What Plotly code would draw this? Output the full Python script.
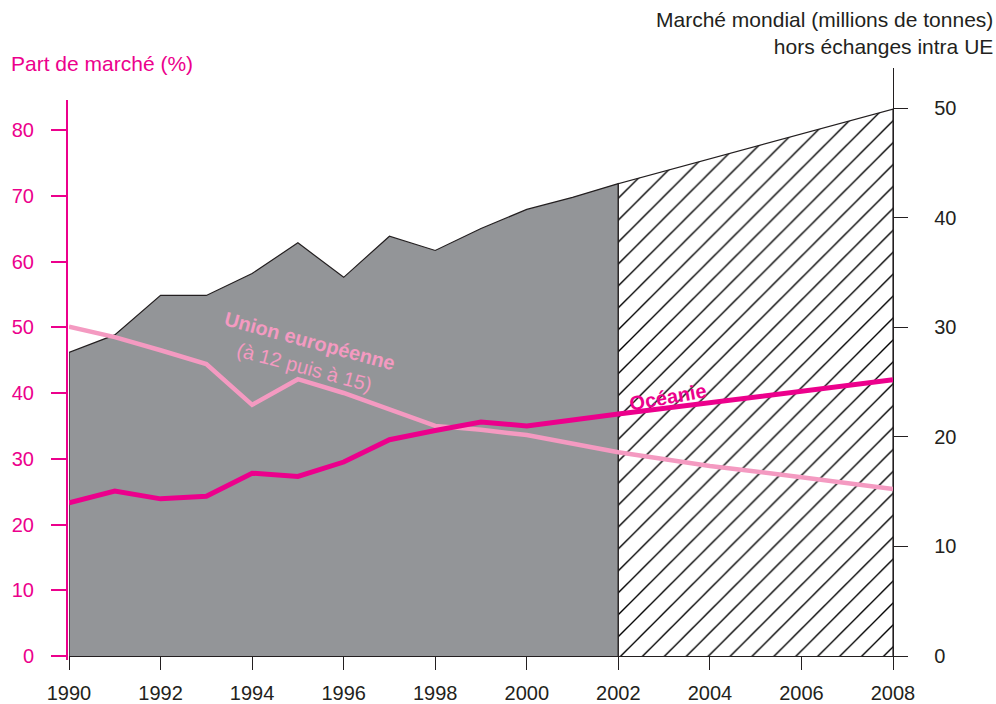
import plotly.graph_objects as go

# ---- data ----
years_hist = [1990, 1991, 1992, 1993, 1994, 1995, 1996, 1997, 1998, 1999, 2000, 2001, 2002]
market_hist = [27.7, 29.3, 32.9, 32.9, 34.9, 37.7, 34.55, 38.3, 37.0, 39.0, 40.75, 41.85, 43.1]

years_proj = [2002, 2008]
market_proj = [43.1, 49.9]

ue_years = [1990, 1991, 1992, 1993, 1994, 1995, 1996, 1997, 1998, 1999, 2000, 2002, 2004, 2006, 2008]
ue_share = [50.1, 48.5, 46.5, 44.4, 38.2, 42.1, 40.0, 37.5, 35.0, 34.4, 33.6, 31.0, 28.9, 27.2, 25.4]

oce_years = [1990, 1991, 1992, 1993, 1994, 1995, 1996, 1997, 1998, 1999, 2000, 2002, 2008]
oce_share = [23.3, 25.1, 23.9, 24.3, 27.8, 27.3, 29.5, 32.9, 34.3, 35.6, 35.0, 36.8, 42.0]

x_ticks = list(range(1990, 2009, 2))
left_ticks = [0, 10, 20, 30, 40, 50, 60, 70, 80]
right_ticks = [0, 10, 20, 30, 40, 50]

# ---- style ----
MAGENTA = "#ec008c"
LIGHTPINK = "#f49ac1"
GRAY = "#939598"
BLACK = "#231f20"
FONT = "Liberation Sans, Arial, Helvetica, sans-serif"
FS = 20
FT = 21

W, H = 996, 704
ML, MR, MT, MB = 69, 103, 68, 48
PW, PH = W - ML - MR, H - MT - MB


def px(x):
    return (x - ML) / PW


def py(y):
    return (H - MB - y) / PH


fig = go.Figure()

# gray historical area (closed polygon down to baseline)
fig.add_trace(go.Scatter(
    x=[years_hist[0]] + years_hist + [years_hist[-1]],
    y=[0] + market_hist + [0],
    fill="toself", fillcolor=GRAY, mode="lines",
    line=dict(color=BLACK, width=1.2), yaxis="y", hoverinfo="skip", showlegend=False,
))

# hatched projection area
fig.add_trace(go.Scatter(
    x=[years_proj[0]] + years_proj + [years_proj[-1]],
    y=[0] + market_proj + [0],
    fill="toself", mode="lines", fillcolor="white",
    fillpattern=dict(shape="/", fgcolor="#000000", fgopacity=1, bgcolor="white",
                     size=15.5, solidity=0.09, fillmode="overlay"),
    line=dict(color=BLACK, width=1.2), yaxis="y", hoverinfo="skip", showlegend=False,
))

# share lines (left axis)
fig.add_trace(go.Scatter(
    x=ue_years, y=ue_share, mode="lines",
    line=dict(color=LIGHTPINK, width=4.5), yaxis="y2", showlegend=False,
))
fig.add_trace(go.Scatter(
    x=oce_years, y=oce_share, mode="lines",
    line=dict(color=MAGENTA, width=5), yaxis="y2", showlegend=False,
))

fig.update_layout(
    width=W, height=H, autosize=False,
    margin=dict(l=ML, r=MR, t=MT, b=MB, pad=0, autoexpand=False),
    paper_bgcolor="white", plot_bgcolor="white",
    font=dict(family=FONT, size=FS, color=BLACK),
    showlegend=False,
    xaxis=dict(
        range=[1990, 2008], tickvals=x_ticks, ticks="outside", ticklen=13,
        tickcolor=BLACK, tickwidth=1.3, showline=True, linecolor=BLACK, linewidth=1.3,
        showgrid=False, zeroline=False, tickfont=dict(size=FS, color=BLACK),
        ticklabelstandoff=6, automargin=False,
    ),
    yaxis=dict(
        side="right", range=[0, PH / 10.96], tickvals=right_ticks,
        ticks="outside", ticklen=14, tickcolor=BLACK, tickwidth=1.3,
        showline=True, linecolor=BLACK, linewidth=1.3, showgrid=False, zeroline=False,
        tickfont=dict(size=FS, color=BLACK), ticklabelstandoff=22, automargin=False,
    ),
    yaxis2=dict(
        overlaying="y", side="left", range=[0, PH / 6.575], tickvals=left_ticks,
        ticks="outside", ticklen=17, tickcolor=MAGENTA, tickwidth=1.5,
        showline=False, showgrid=False, zeroline=False,
        tickfont=dict(size=FS, color=MAGENTA), ticklabelstandoff=13, automargin=False,
    ),
)

# left axis line (shorter than the plot area)
fig.add_shape(type="line", xref="paper", yref="paper",
              x0=px(67), x1=px(67), y0=py(660), y1=py(100),
              line=dict(color=MAGENTA, width=2))

# axis titles
fig.add_annotation(text="Part de marché (%)", xref="paper", yref="paper",
                   x=px(9), y=py(64), xanchor="left", yanchor="middle",
                   showarrow=False, font=dict(size=FT, color=MAGENTA, family=FONT))
fig.add_annotation(text="Marché mondial (millions de tonnes)<br>hors échanges intra UE",
                   xref="paper", yref="paper", x=px(995), y=py(33),
                   xanchor="right", yanchor="middle", align="right",
                   showarrow=False, font=dict(size=FT, color=BLACK, family=FONT))

# series labels
fig.add_annotation(text="<b>Union européenne</b>", xref="paper", yref="paper",
                   x=px(310), y=py(341), xanchor="center", yanchor="middle",
                   textangle=15, showarrow=False,
                   font=dict(size=20, color=LIGHTPINK, family=FONT))
fig.add_annotation(text="(à 12 puis à 15)", xref="paper", yref="paper",
                   x=px(304), y=py(367), xanchor="center", yanchor="middle",
                   textangle=15, showarrow=False,
                   font=dict(size=20, color=LIGHTPINK, family=FONT))
fig.add_annotation(text="<b>Océanie</b>", xref="paper", yref="paper",
                   x=px(668), y=py(397), xanchor="center", yanchor="middle",
                   textangle=-10, showarrow=False,
                   font=dict(size=20, color=MAGENTA, family=FONT))

fig.write_html("out.html", config={"displayModeBar": False},
               post_script="document.body.style.margin='0';document.body.style.overflow='hidden';")
